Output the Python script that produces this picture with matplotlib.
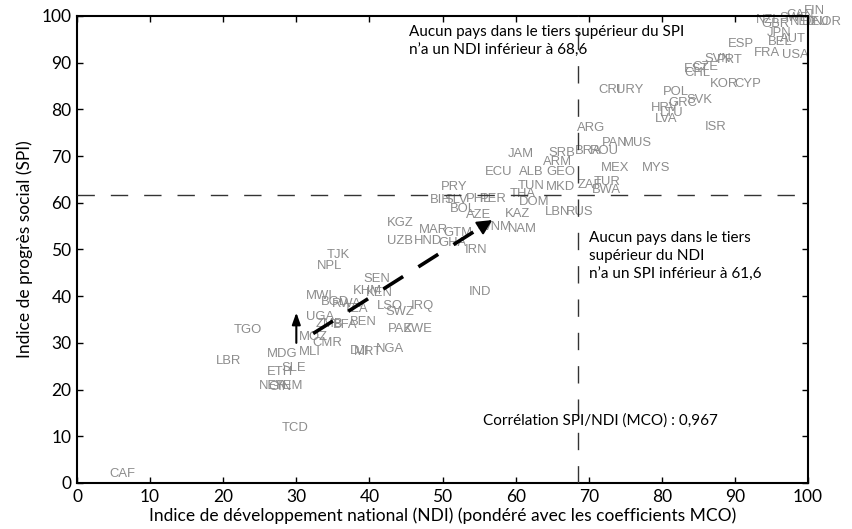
import matplotlib
matplotlib.use("Agg")
import matplotlib.pyplot as plt

# Country codes with (NDI, SPI) positions
countries = ["FIN", "CAN", "NOR", "DEU", "NLD", "SWE", "NZL", "GBR", "JPN", "AUT",
             "BEL", "ESP", "FRA", "USA", "SVN", "PRT", "CZE", "EST", "CHL", "KOR",
             "CYP", "CRI", "URY", "POL", "SVK", "GRC", "HRV", "LTU", "LVA", "ISR",
             "ARG", "PAN", "MUS", "BRA", "ROU", "SRB", "ARM", "GEO", "MEX", "MYS",
             "ZAF", "TUR", "BWA", "JAM", "ECU", "ALB", "TUN", "THA", "MKD", "DOM",
             "PRY", "BIH", "SLV", "PHL", "PER", "BOL", "AZE", "KAZ", "LBN", "RUS",
             "NAM", "VNM", "IRN", "GTM", "MAR", "KGZ", "UZB", "HND", "GHA", "IND",
             "TJK", "NPL", "SEN", "KHM", "KEN", "MWI", "BGD", "RWA", "TZA", "LSO",
             "IRQ", "SWZ", "UGA", "ZMB", "BFA", "BEN", "MOZ", "CMR", "MLI", "PAK",
             "ZWE", "NGA", "DJI", "MRT", "TGO", "LBR", "MDG", "SLE", "ETH", "NER",
             "GIN", "YEM", "TCD", "CAF"]
ndi = [100.9, 98.9, 102.7, 101.0, 99.3, 98.1, 94.5, 95.5, 96.0, 97.9,
       96.2, 90.8, 94.4, 98.2, 87.6, 89.3, 85.9, 84.8, 84.8, 88.5,
       91.7, 72.9, 75.6, 81.9, 85.2, 82.9, 80.4, 81.4, 80.6, 87.4,
       70.3, 73.5, 76.7, 69.9, 72.2, 66.3, 65.7, 66.2, 73.6, 79.2,
       70.2, 72.5, 72.4, 60.7, 57.7, 62.1, 62.1, 60.9, 66.1, 62.5,
       51.6, 49.7, 51.8, 54.9, 57.0, 52.8, 54.9, 60.3, 65.7, 68.8,
       60.9, 57.5, 54.6, 52.1, 48.7, 44.2, 44.2, 48.0, 51.3, 55.1,
       35.7, 34.6, 41.0, 39.7, 41.4, 33.2, 35.3, 36.9, 38.2, 42.8,
       47.2, 44.2, 33.2, 34.5, 36.7, 39.1, 32.3, 34.3, 31.9, 44.2,
       46.6, 42.8, 38.7, 39.8, 23.4, 20.7, 28.0, 29.7, 27.8, 26.7,
       27.8, 29.0, 29.8, 6.2]
spi = [101.0, 100.2, 98.7, 98.7, 98.7, 99.6, 99.1, 98.3, 96.4, 95.1,
       94.4, 94.0, 92.1, 91.6, 90.8, 90.6, 89.1, 88.7, 87.8, 85.4,
       85.4, 84.2, 84.2, 83.7, 82.0, 81.3, 80.3, 79.2, 77.9, 76.2,
       76.0, 72.8, 72.8, 71.1, 71.1, 70.7, 68.7, 66.6, 67.5, 67.5,
       63.8, 64.5, 62.7, 70.4, 66.6, 66.6, 63.6, 61.9, 63.4, 60.2,
       63.4, 60.6, 60.6, 60.8, 60.8, 58.7, 57.4, 57.6, 58.0, 58.0,
       54.4, 54.8, 49.9, 53.5, 54.2, 55.7, 51.8, 51.8, 51.4, 40.9,
       48.8, 46.5, 43.7, 41.1, 40.7, 40.0, 38.8, 38.3, 37.3, 37.9,
       37.9, 36.6, 35.5, 34.0, 33.8, 34.5, 31.3, 30.0, 28.1, 33.0,
       33.0, 28.7, 28.3, 28.1, 32.8, 26.1, 27.6, 24.6, 23.8, 20.8,
       20.6, 20.8, 11.8, 1.9]

# Thresholds and correlation
ndi_threshold = 68.6
spi_threshold = 61.6
correlation = "0,967"

# Trend arrow and low-end arrow (NDI, SPI)
trend_start = (32.3, 32.0)
trend_end = (56.8, 56.3)
up_arrow = [(30.0, 30.0), (30.0, 36.5)]

ticks = list(range(0, 101, 10))

text_font = ["Lato", "DejaVu Sans"]
label_font = ["Liberation Sans", "DejaVu Sans"]

fig = plt.figure(figsize=(8.52, 5.29), dpi=100)
ax = fig.add_axes([0.0904, 0.087, 0.858, 0.8828])
ax.set_xlim(0, 100)
ax.set_ylim(0, 100)

for c, x, y in zip(countries, ndi, spi):
    ax.text(x, y, c, ha="center", va="center", fontsize=9.4, color="#8c8c8c",
            family=label_font, clip_on=False, zorder=2)

ax.axvline(ndi_threshold, color="#333333", lw=1.0, ls=(0, (12.5, 11.5)), zorder=3)
ax.axhline(spi_threshold, color="#333333", lw=1.0, ls=(0, (12.5, 11.5)), zorder=3)

# Dashed trend with arrow head
dx = trend_end[0] - trend_start[0]
dy = trend_end[1] - trend_start[1]
shaft_end = (trend_start[0] + dx * 0.93, trend_start[1] + dy * 0.93)
ax.plot([trend_start[0], shaft_end[0]], [trend_start[1], shaft_end[1]],
        color="black", lw=2.6, ls=(0, (6.5, 5.0)), solid_capstyle="butt", zorder=4)
ax.annotate("", xy=trend_end, xytext=shaft_end,
            arrowprops=dict(arrowstyle="-|>,head_length=0.9,head_width=0.45",
                            color="black", lw=1.5, shrinkA=0, shrinkB=0),
            zorder=4)

ax.annotate("", xy=up_arrow[1], xytext=up_arrow[0],
            arrowprops=dict(arrowstyle="-|>,head_length=0.7,head_width=0.25",
                            color="black", lw=1.5, shrinkA=0, shrinkB=0),
            zorder=4)

ax.text(45.4, 94.5, "Aucun pays dans le tiers supérieur du SPI\nn\u2019a un NDI inférieur à 68,6",
        ha="left", va="center", fontsize=11, family=text_font, linespacing=1.45, zorder=5)
ax.text(70.0, 48.6, "Aucun pays dans le tiers\nsupérieur du NDI\nn\u2019a un SPI inférieur à 61,6",
        ha="left", va="center", fontsize=11, family=text_font, linespacing=1.4, zorder=5)
ax.text(55.5, 13.3, "Corrélation SPI/NDI (MCO) : " + correlation,
        ha="left", va="center", fontsize=11, family=text_font, zorder=5)

ax.set_xticks(ticks)
ax.set_yticks(ticks)
ax.tick_params(direction="in", length=4, width=1, top=True, right=True,
               labelsize=12.5, pad=4)
for lab in ax.get_xticklabels() + ax.get_yticklabels():
    lab.set_family(text_font)
for s in ax.spines.values():
    s.set_linewidth(1.5)

ax.set_xlabel("Indice de développement national (NDI) (pondéré avec les coefficients MCO)",
              fontsize=12.5, family=text_font, labelpad=2)
ax.set_ylabel("Indice de progrès social (SPI)", fontsize=12.5, family=text_font, labelpad=6)

fig.savefig("out.png", dpi=100)
